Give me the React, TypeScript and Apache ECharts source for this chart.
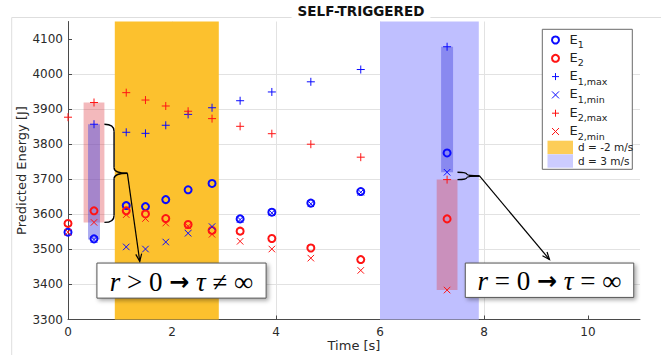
import React, { useEffect, useRef } from 'react';
import * as echarts from 'echarts';

// ---- data ----
const times = [0, 0.5, 1.12, 1.49, 1.88, 2.31, 2.77, 3.31, 3.92, 4.67, 5.63, 7.29];
const e1 = [3549, 3530, 3625, 3622, 3642, 3670, 3688, 3587, 3606, 3632, 3665, 3775];
const e2 = [3574, 3610, 3610, 3601, 3588, 3571, 3554, 3552, 3531, 3504, 3471, 3587];
const e1Max = [null, 3857, 3834, 3831, 3854, 3885, 3904, 3924, 3949, 3978, 4013, 4078];
const e1Min = [null, 3528, 3507, 3501, 3521, 3546, 3565, 3585, 3604, 3630, 3663, 3720];
const e2Max = [3877, 3919, 3947, 3926, 3909, 3894, 3873, 3851, 3830, 3800, 3763, 3699];
const e2Min = [3549, 3577, 3599, 3588, 3575, 3566, 3543, 3523, 3501, 3475, 3440, 3384];

const xTicks = [0, 2, 4, 6, 8, 10];
const yTicks = [3300, 3400, 3500, 3600, 3700, 3800, 3900, 4000, 4100];
const xRange = [0, 11];
const yRange = [3300, 4150];

const bandNames = ['d = -2 m/s', 'd = 3 m/s'];
const bandSpans = [[0.9, 2.9], [6.0, 7.9]];
const highlightIdx = [1, 11];

// annotation boxes in data coordinates: [t0, t1, E0, E1] and arrow targets
const boxSpans = [[0.556, 3.81, 3361, 3461], [7.64, 10.88, 3363, 3461]];
const arrowTargets = [[1.38, 3466], [9.26, 3471]];
const boxTexts = [
  '{i|r}{n| > 0 }{a|\u2192}{n| }{i|\u03C4}{n| \u2260 \u221E}',
  '{i|r}{n| = 0 }{a|\u2192}{n| }{i|\u03C4}{n| = \u221E}',
];

const BLUE = '#0b0bff';
const RED = '#ff1414';
const YELLOW = '#fcc12e';
const LAVENDER = '#bfbfff';
const W2 = 0.2;
const W1 = 0.115;

const PLUS = 'path://M5,0L5,10M0,5L10,5';
const CROSS = 'path://M0,0L10,10M10,0L0,10';

const subs: Record<string, string> = {
  E1: '1', E2: '2', E1max: '1,max', E1min: '1,min', E2max: '2,max', E2min: '2,min',
};

function pts(ys: (number | null)[]) {
  const out: number[][] = [];
  ys.forEach((v, i) => { if (v != null) out.push([times[i], v]); });
  return out;
}

function markerSeries(name: string, ys: (number | null)[], symbol: string, color: string, size: number, circle: boolean) {
  return {
    name, type: 'scatter', data: pts(ys), symbol, symbolSize: size, z: 5, silent: true,
    itemStyle: { color: circle ? 'rgba(0,0,0,0)' : color, borderColor: color, borderWidth: circle ? 2 : 1, opacity: 1 },
    emphasis: { disabled: true },
  };
}

function legendItem(name: string, icon: string, color: string, circle: boolean) {
  return { name, icon, itemStyle: { color: 'rgba(0,0,0,0)', borderColor: color, borderWidth: circle ? 2 : 1 } };
}

export default function App() {
  const ref = useRef<HTMLDivElement>(null);
  useEffect(() => {
    if (!ref.current) return;
    const chart = echarts.init(ref.current, null, { renderer: 'svg' });
    const axisFont = { fontFamily: 'DejaVu Sans', fontSize: 12, color: '#2a2a2a' };
    const gridColors = (n: number) => [...Array(n).fill('#e2e2e2'), 'rgba(0,0,0,0)'];

    const rangeAreas: any[] = [];
    highlightIdx.forEach((i) => {
      const t = times[i];
      rangeAreas.push([
        { coord: [t - W2, e2Min[i]], itemStyle: { color: 'rgba(222,60,70,0.36)' } },
        { coord: [t + W2, e2Max[i]] },
      ]);
      rangeAreas.push([
        { coord: [t - W1, e1Min[i]], itemStyle: { color: 'rgba(70,70,222,0.45)' } },
        { coord: [t + W1, e1Max[i]] },
      ]);
    });

    const option: any = {
      animation: false,
      backgroundColor: '#ffffff',
      title: {
        text: 'SELF-TRIGGERED', left: 355, top: 2, textAlign: 'center',
        padding: [1, 6, 1, 6], backgroundColor: '#ffffff',
        textStyle: { fontFamily: 'DejaVu Sans', fontWeight: 'bold', fontSize: 13.5, color: '#111', lineHeight: 16 },
      },
      grid: { left: 68, right: 21, top: 21.5, bottom: 38.5 },
      xAxis: {
        type: 'value', min: xRange[0], max: xRange[1], interval: 2,
        name: 'Time [s]', nameLocation: 'middle', nameGap: 19, nameMoveOverlap: false,
        nameTextStyle: { fontFamily: 'DejaVu Sans', fontSize: 13, color: '#2a2a2a' },
        axisLine: { show: true, onZero: false, lineStyle: { color: '#4a4a4a', width: 1 } },
        axisTick: { show: true, inside: true, length: 4, customValues: xTicks, lineStyle: { color: '#4a4a4a' } },
        axisLabel: { ...axisFont, margin: 6, customValues: xTicks, formatter: (v: number) => String(v) },
        splitLine: { show: true, showMaxLine: false, lineStyle: { color: gridColors(xTicks.length), width: 1 } },
      },
      yAxis: {
        type: 'value', min: yRange[0], max: yRange[1], interval: 100,
        name: 'Predicted Energy [J]', nameLocation: 'middle', nameGap: 40, nameMoveOverlap: false,
        nameTextStyle: { fontFamily: 'DejaVu Sans', fontSize: 13, color: '#2a2a2a' },
        axisLine: { show: true, onZero: false, lineStyle: { color: '#4a4a4a', width: 1 } },
        axisTick: { show: true, inside: true, length: 4, customValues: yTicks, lineStyle: { color: '#4a4a4a' } },
        axisLabel: { ...axisFont, margin: 5, customValues: yTicks, formatter: (v: number) => String(v) },
        splitLine: { show: true, showMaxLine: false, lineStyle: { color: gridColors(yTicks.length), width: 1 } },
      },
      legend: [
        {
          orient: 'vertical', left: 551, top: 32.5, padding: 0, itemWidth: 18, itemHeight: 7, itemGap: 1.3,
          selectedMode: false,
          data: [
            legendItem('E1', 'circle', BLUE, true),
            legendItem('E2', 'circle', RED, true),
            legendItem('E1max', PLUS, BLUE, false),
            legendItem('E1min', CROSS, BLUE, false),
            legendItem('E2max', PLUS, RED, false),
            legendItem('E2min', CROSS, RED, false),
          ],
          formatter: (name: string) => (subs[name] ? `{e|E}{s|${subs[name]}}` : name),
          textStyle: {
            fontFamily: 'DejaVu Sans', fontSize: 13, color: '#222',
            rich: {
              e: { fontFamily: 'DejaVu Sans', fontSize: 13, color: '#222', lineHeight: 15, verticalAlign: 'top' },
              s: { fontFamily: 'DejaVu Sans', fontSize: 9.5, color: '#222', lineHeight: 9, padding: [7, 0, 0, 0], verticalAlign: 'top' },
            },
          },
        },
        {
          orient: 'vertical', left: 547.5, top: 140.7, padding: 0, itemWidth: 25.5, itemHeight: 13.4, itemGap: 0.2,
          selectedMode: false,
          data: bandNames.map((n) => ({ name: n, icon: 'rect' })),
          textStyle: { fontFamily: 'DejaVu Sans', fontSize: 10.5, color: '#222' },
        },
      ],
      series: [
        ...bandNames.map((n, k) => ({
          name: n, type: 'scatter', data: [], z: 1, silent: true,
          itemStyle: { color: k === 0 ? YELLOW : LAVENDER },
          markArea: {
            silent: true,
            itemStyle: { color: k === 0 ? YELLOW : LAVENDER, opacity: 1 },
            data: [[{ xAxis: bandSpans[k][0] }, { xAxis: bandSpans[k][1] }]],
          },
        })),
        {
          name: 'ranges', type: 'scatter', data: [], z: 3, silent: true,
          markArea: { silent: true, data: rangeAreas },
        },
        markerSeries('E1', e1, 'circle', BLUE, 7, true),
        markerSeries('E2', e2, 'circle', RED, 7, true),
        markerSeries('E1max', e1Max, PLUS, BLUE, 8, false),
        markerSeries('E1min', e1Min, CROSS, BLUE, 6.5, false),
        markerSeries('E2max', e2Max, PLUS, RED, 8, false),
        markerSeries('E2min', e2Min, CROSS, RED, 6.5, false),
      ],
    };
    chart.setOption(option);

    const P = (x: number, y: number) => chart.convertToPixel({ gridIndex: 0 }, [x, y]) as number[];
    const ink = { stroke: '#000', lineWidth: 1.4, fill: 'none' };
    const g: any[] = [];

    // figure frame lines
    g.push({ type: 'line', z: 0, silent: true, shape: { x1: 11.7, y1: 17.5, x2: 661, y2: 17.5 }, style: { stroke: '#dedede', lineWidth: 1 } });
    g.push({ type: 'line', z: 0, silent: true, shape: { x1: 11.7, y1: 17.5, x2: 11.7, y2: 355 }, style: { stroke: '#dedede', lineWidth: 1 } });

    // legend frame
    g.push({ type: 'rect', z: 3, silent: true, shape: { x: 542.3, y: 29.3, width: 90, height: 140 }, style: { fill: '#fff', stroke: '#6a6a6a', lineWidth: 1 } });

    const brace = (x0: number, yT: number, yB: number, xt: number) => {
      const yM = (yT + yB) / 2;
      const h = yB - yT;
      const xm = x0 + (xt - x0) * 0.42;
      const r1 = Math.min(7, h / 4);
      const r2 = Math.min(5.5, h / 4);
      const q = (x1: number, y1: number, cx: number, cy: number, x2: number, y2: number) =>
        ({ type: 'bezierCurve', z: 12, silent: true, shape: { x1, y1, cpx1: cx, cpy1: cy, x2, y2 }, style: ink });
      const l = (x1: number, y1: number, x2: number, y2: number) =>
        ({ type: 'line', z: 12, silent: true, shape: { x1, y1, x2, y2 }, style: ink });
      g.push(q(x0, yT, xm, yT, xm, yT + r1));
      if (yM - r2 > yT + r1) g.push(l(xm, yT + r1, xm, yM - r2));
      g.push(q(xm, yM - r2, xm, yM, xt, yM));
      g.push(q(xt, yM, xm, yM, xm, yM + r2));
      if (yB - r1 > yM + r2) g.push(l(xm, yM + r2, xm, yB - r1));
      g.push(q(xm, yB - r1, xm, yB, x0, yB));
      return [xt, yM];
    };

    const arrow = (s: number[], e: number[]) => {
      g.push({ type: 'line', z: 12, silent: true, shape: { x1: s[0], y1: s[1], x2: e[0], y2: e[1] }, style: { stroke: '#000', lineWidth: 1.2 } });
      const dx = e[0] - s[0], dy = e[1] - s[1];
      const len = Math.hypot(dx, dy);
      const ux = dx / len, uy = dy / len;
      const L = 8, a = 0.38;
      const rot = (ang: number) => [ux * Math.cos(ang) - uy * Math.sin(ang), ux * Math.sin(ang) + uy * Math.cos(ang)];
      const r1 = rot(a), r2 = rot(-a);
      g.push({
        type: 'polyline', z: 12, silent: true,
        shape: { points: [[e[0] - L * r1[0], e[1] - L * r1[1]], e, [e[0] - L * r2[0], e[1] - L * r2[1]]] },
        style: { stroke: '#000', lineWidth: 1.2, fill: 'none' },
      });
    };

    // brace 1: E1max to E2min at the first highlighted instant
    const i1 = highlightIdx[0];
    const a1 = P(times[i1] + W2, e1Max[i1] as number);
    const b1 = P(times[i1] + W2, e2Min[i1]);
    const tip1 = brace(a1[0], a1[1], b1[1], a1[0] + 23);
    arrow(tip1, P(arrowTargets[0][0], arrowTargets[0][1]));

    // brace 2: E1min to E2max at the second highlighted instant
    const i2 = highlightIdx[1];
    const a2 = P(times[i2] + W2, e1Min[i2] as number);
    const b2 = P(times[i2] + W2, e2Max[i2]);
    const tip2 = brace(a2[0], a2[1], b2[1], a2[0] + 22);
    arrow(tip2, P(arrowTargets[1][0], arrowTargets[1][1]));

    const rich = {
      i: { fontFamily: 'Liberation Serif', fontStyle: 'italic', fontSize: 27, fill: '#000' },
      n: { fontFamily: 'Liberation Serif', fontSize: 27, fill: '#000' },
      a: { fontFamily: 'DejaVu Sans', fontWeight: 'bold', fontSize: 24, fill: '#000' },
    };
    boxSpans.forEach((b, k) => {
      const p0 = P(b[0], b[3]);
      const p1 = P(b[1], b[2]);
      g.push({
        type: 'rect', z: 10, silent: true,
        shape: { x: p0[0], y: p0[1], width: p1[0] - p0[0], height: p1[1] - p0[1] },
        style: { fill: '#fff', stroke: '#555', lineWidth: 1, shadowBlur: 4, shadowOffsetX: 2, shadowOffsetY: 2, shadowColor: 'rgba(0,0,0,0.35)' },
      });
      g.push({
        type: 'text', z: 11, silent: true,
        x: (p0[0] + p1[0]) / 2, y: (p0[1] + p1[1]) / 2 + 1,
        style: { text: boxTexts[k], rich, align: 'center', verticalAlign: 'middle', fill: '#000' },
      });
    });

    chart.setOption({ graphic: g });
    return () => chart.dispose();
  }, []);
  return <div ref={ref} style={{ position: 'absolute', left: 0, top: 0, width: 661, height: 358 }} />;
}
